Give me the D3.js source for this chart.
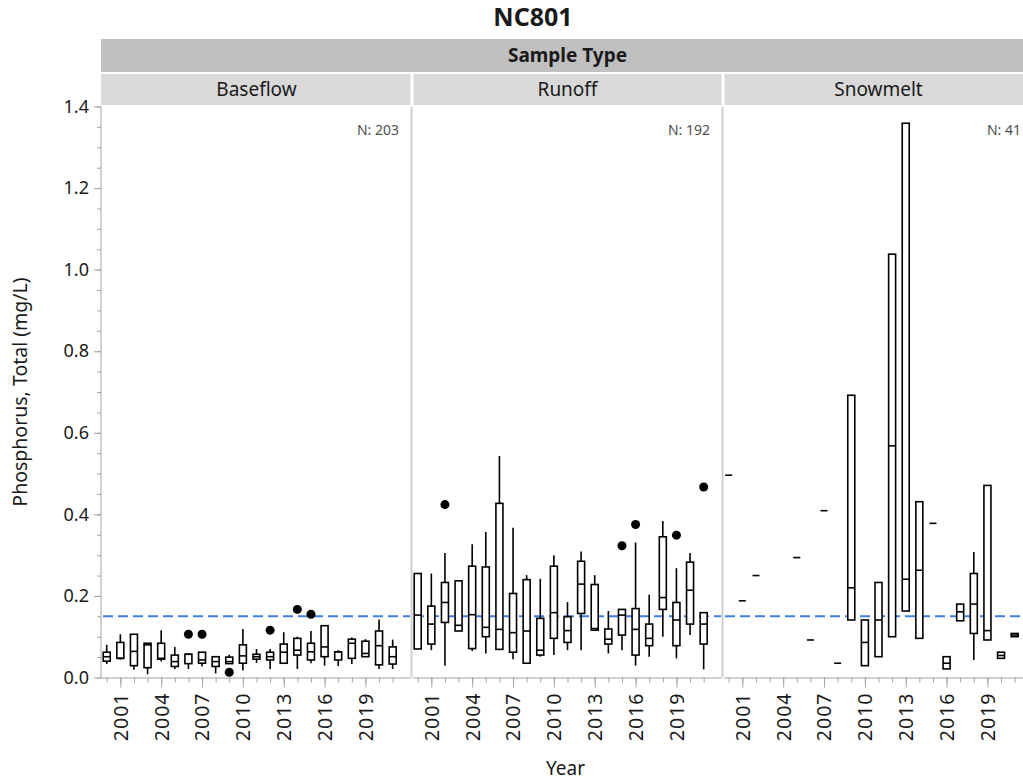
<!DOCTYPE html>
<html>
<head>
<meta charset="utf-8">
<script src="https://cdn.jsdelivr.net/npm/d3@7"></script>
<style>
  body { margin: 0; background: #fff; }
  text { font-family: "Noto Sans", "Open Sans", sans-serif; }
</style>
</head>
<body>
<svg id="chart" width="1023" height="782"></svg>
<script>
// ---- data -------------------------------------------------------------
const chartTitle = "NC801";
const groupTitle = "Sample Type";
const sampleTypes = ["Baseflow", "Runoff", "Snowmelt"];
const sampleCounts = [203, 192, 41];
const yTicks = [0, 0.2, 0.4, 0.6, 0.8, 1.0, 1.2, 1.4];
const tickYears = [2001, 2004, 2007, 2010, 2013, 2016, 2019];
const referenceLevel = 0.15;

// rows: [year, lower whisker, Q1, median, Q3, upper whisker]
const baseflowBoxes = [
  [2000, 0.033, 0.040, 0.051, 0.062, 0.080],
  [2001, 0.044, 0.047, 0.047, 0.086, 0.106],
  [2002, 0.019, 0.029, 0.064, 0.106, 0.106],
  [2003, 0.008, 0.024, 0.080, 0.084, 0.084],
  [2004, 0.039, 0.045, 0.047, 0.084, 0.116],
  [2005, 0.021, 0.027, 0.039, 0.055, 0.075],
  [2006, 0.021, 0.034, 0.057, 0.057, 0.057],
  [2007, 0.027, 0.035, 0.043, 0.062, 0.062],
  [2008, 0.010, 0.027, 0.039, 0.051, 0.051],
  [2009, 0.034, 0.034, 0.039, 0.050, 0.056],
  [2010, 0.017, 0.035, 0.053, 0.080, 0.119],
  [2011, 0.036, 0.045, 0.051, 0.057, 0.070],
  [2012, 0.021, 0.043, 0.051, 0.062, 0.070],
  [2013, 0.033, 0.035, 0.062, 0.082, 0.111],
  [2014, 0.021, 0.055, 0.067, 0.096, 0.100],
  [2015, 0.035, 0.043, 0.063, 0.084, 0.114],
  [2016, 0.029, 0.051, 0.075, 0.127, 0.127],
  [2017, 0.028, 0.043, 0.063, 0.063, 0.067],
  [2018, 0.033, 0.047, 0.084, 0.094, 0.098],
  [2019, 0.051, 0.051, 0.059, 0.089, 0.094],
  [2020, 0.021, 0.031, 0.078, 0.114, 0.142],
  [2021, 0.021, 0.033, 0.051, 0.075, 0.093]
];
const baseflowOutliers = [
  [2006, 0.106], [2007, 0.106], [2009, 0.013], [2012, 0.116],
  [2014, 0.167], [2015, 0.155]
];

const runoffBoxes = [
  [2000, 0.070, 0.070, 0.153, 0.255, 0.255],
  [2001, 0.067, 0.082, 0.131, 0.175, 0.255],
  [2002, 0.029, 0.135, 0.184, 0.233, 0.305],
  [2003, 0.114, 0.114, 0.128, 0.237, 0.237],
  [2004, 0.065, 0.071, 0.154, 0.273, 0.327],
  [2005, 0.059, 0.100, 0.123, 0.271, 0.357],
  [2006, 0.069, 0.069, 0.118, 0.427, 0.543],
  [2007, 0.045, 0.062, 0.110, 0.206, 0.367],
  [2008, 0.035, 0.035, 0.114, 0.240, 0.251],
  [2009, 0.051, 0.055, 0.067, 0.145, 0.242],
  [2010, 0.055, 0.096, 0.159, 0.273, 0.300],
  [2011, 0.067, 0.086, 0.115, 0.149, 0.185],
  [2012, 0.067, 0.157, 0.229, 0.285, 0.309],
  [2013, 0.116, 0.116, 0.120, 0.228, 0.251],
  [2014, 0.059, 0.082, 0.094, 0.119, 0.163],
  [2015, 0.067, 0.104, 0.153, 0.167, 0.167],
  [2016, 0.029, 0.055, 0.118, 0.169, 0.331],
  [2017, 0.051, 0.078, 0.096, 0.131, 0.203],
  [2018, 0.100, 0.167, 0.196, 0.345, 0.384],
  [2019, 0.047, 0.078, 0.141, 0.184, 0.268],
  [2020, 0.104, 0.131, 0.214, 0.283, 0.305],
  [2021, 0.020, 0.082, 0.131, 0.159, 0.159]
];
const runoffOutliers = [
  [2002, 0.424], [2015, 0.323], [2016, 0.375], [2019, 0.349], [2021, 0.467]
];

const snowmeltBoxes = [
  [2000, 0.496, 0.496, 0.496, 0.496, 0.496],
  [2001, 0.188, 0.188, 0.188, 0.188, 0.188],
  [2002, 0.250, 0.250, 0.250, 0.250, 0.250],
  [2005, 0.294, 0.294, 0.294, 0.294, 0.294],
  [2006, 0.092, 0.092, 0.092, 0.092, 0.092],
  [2007, 0.409, 0.409, 0.409, 0.409, 0.409],
  [2008, 0.035, 0.035, 0.035, 0.035, 0.035],
  [2009, 0.141, 0.141, 0.220, 0.692, 0.692],
  [2010, 0.029, 0.029, 0.086, 0.141, 0.141],
  [2011, 0.051, 0.051, 0.141, 0.233, 0.233],
  [2012, 0.100, 0.100, 0.568, 1.038, 1.038],
  [2013, 0.163, 0.163, 0.241, 1.359, 1.359],
  [2014, 0.096, 0.096, 0.263, 0.431, 0.431],
  [2015, 0.378, 0.378, 0.378, 0.378, 0.378],
  [2016, 0.021, 0.021, 0.035, 0.051, 0.051],
  [2017, 0.139, 0.139, 0.161, 0.180, 0.180],
  [2018, 0.043, 0.108, 0.180, 0.255, 0.308],
  [2019, 0.092, 0.092, 0.115, 0.471, 0.471],
  [2020, 0.047, 0.047, 0.054, 0.062, 0.062],
  [2021, 0.100, 0.100, 0.104, 0.108, 0.108]
];
const snowmeltOutliers = [];

const panelBoxes = [baseflowBoxes, runoffBoxes, snowmeltBoxes];
const panelOutliers = [baseflowOutliers, runoffOutliers, snowmeltOutliers];

// ---- layout -----------------------------------------------------------
const svg = d3.select("#chart");
const plotLeft = 101, panelStep = 311, panelW = 311;
const plotTop = 106.5, plotBottom = 677.5;
const boxW = 7;
const axisGrey = "#a3a3a3";
const ink = "#1a1a1a";

const x = d3.scaleLinear().domain([1999.58, 2022.42]).range([0, panelW]);
const y = d3.scaleLinear().domain([0, 1.4]).range([plotBottom, plotTop]);

svg.append("rect").attr("width", 1023).attr("height", 782).attr("fill", "#fff");

// title
svg.append("text").attr("x", 533).attr("y", 26)
  .attr("text-anchor", "middle").attr("font-size", 25).attr("font-weight", "bold")
  .attr("fill", ink).text(chartTitle);

// group header bar
const totalW = panelStep * sampleTypes.length;
svg.append("rect").attr("x", plotLeft).attr("y", 39).attr("width", totalW).attr("height", 33)
  .attr("fill", "#c0c0c0");
svg.append("text").attr("x", plotLeft + totalW / 2).attr("y", 62)
  .attr("text-anchor", "middle").attr("font-size", 19).attr("font-weight", "bold")
  .attr("fill", ink).text(groupTitle);

// y axis
const yAxisG = svg.append("g").attr("transform", `translate(${plotLeft},0)`);
yAxisG.call(d3.axisLeft(y).tickValues(d3.range(0, 1.4001, 0.05)).tickSize(4).tickFormat(""));
yAxisG.call(g => g.selectAll(".tick line").attr("stroke", axisGrey));
yAxisG.select(".domain").remove();
const yMajor = svg.append("g").attr("transform", `translate(${plotLeft},0)`)
  .call(d3.axisLeft(y).tickValues(yTicks).tickSize(7).tickPadding(5).tickFormat(d3.format(".1f")));
yMajor.select(".domain").remove();
yMajor.selectAll(".tick line").attr("stroke", axisGrey);
yMajor.selectAll(".tick text").attr("font-size", 18).attr("fill", ink)
  .attr("font-family", "'Noto Sans', sans-serif");
svg.append("line").attr("x1", plotLeft).attr("x2", plotLeft)
  .attr("y1", plotTop).attr("y2", plotBottom).attr("stroke", axisGrey);

svg.append("text")
  .attr("transform", `translate(27,${(plotTop + plotBottom) / 2}) rotate(-90)`)
  .attr("text-anchor", "middle").attr("font-size", 19.5).attr("fill", ink)
  .text("Phosphorus, Total (mg/L)");

svg.append("text").attr("x", plotLeft + totalW / 2 - 2).attr("y", 775)
  .attr("text-anchor", "middle").attr("font-size", 19).attr("fill", ink).text("Year");

// panels
sampleTypes.forEach((name, i) => {
  const x0 = plotLeft + i * panelStep;
  const g = svg.append("g").attr("transform", `translate(${x0},0)`);

  // strip header
  g.append("rect").attr("x", i === 0 ? 0 : 1.5).attr("y", 74)
    .attr("width", panelW - (i === 0 ? 1.5 : 3)).attr("height", 31).attr("fill", "#d9d9d9");
  g.append("text").attr("x", panelW / 2).attr("y", 96)
    .attr("text-anchor", "middle").attr("font-size", 19).attr("fill", ink).text(name);

  // panel separator
  if (i > 0) {
    g.append("line").attr("x1", -0.5).attr("x2", -0.5)
      .attr("y1", plotTop).attr("y2", plotBottom).attr("stroke", "#cfcfcf").attr("stroke-width", 2);
  }

  // x axis
  const xa = g.append("g").attr("transform", `translate(0,${plotBottom})`);
  xa.call(d3.axisBottom(x).tickValues(d3.range(2000, 2022)).tickSize(5).tickFormat(""));
  xa.select(".domain").attr("stroke", axisGrey).attr("d", `M${i === 0 ? 0 : 1},0.5H${panelW - 1}`);
  xa.selectAll(".tick line").attr("stroke", axisGrey);
  const xm = g.append("g").attr("transform", `translate(0,${plotBottom})`)
    .call(d3.axisBottom(x).tickValues(tickYears).tickSize(10).tickFormat(d3.format("d")));
  xm.select(".domain").remove();
  xm.selectAll(".tick line").attr("stroke", axisGrey);
  xm.selectAll(".tick text")
    .attr("font-size", 19.5).attr("fill", ink)
    .attr("font-family", "'Noto Sans', sans-serif")
    .attr("letter-spacing", "1px")
    .attr("text-anchor", "end")
    .attr("dy", "0.35em")
    .attr("transform", "translate(0,5) rotate(-90)")
    .attr("x", -10).attr("y", 0);

  // sample count
  g.append("text").attr("x", panelW - 13).attr("y", 135)
    .attr("text-anchor", "end").attr("font-size", 14).attr("fill", "#505050")
    .text(`N: ${sampleCounts[i]}`);

  // reference level
  g.append("line").attr("x1", 2).attr("x2", panelW - 2)
    .attr("y1", y(referenceLevel)).attr("y2", y(referenceLevel))
    .attr("stroke", "#3f7fe0").attr("stroke-width", 2).attr("stroke-dasharray", "10,5");

  const rows = panelBoxes[i];
  const bx = g.append("g");
  // whiskers
  bx.selectAll("line.whisker").data(rows).join("line").attr("class", "whisker")
    .attr("x1", d => x(d[0])).attr("x2", d => x(d[0]))
    .attr("y1", d => y(d[1])).attr("y2", d => y(d[5]))
    .attr("stroke", "#000").attr("stroke-width", 1.6);
  // boxes
  bx.selectAll("rect.box").data(rows.filter(d => d[4] > d[2])).join("rect").attr("class", "box")
    .attr("x", d => x(d[0]) - boxW / 2).attr("width", boxW)
    .attr("y", d => y(d[4])).attr("height", d => y(d[2]) - y(d[4]))
    .attr("fill", "#fff").attr("stroke", "#000").attr("stroke-width", 1.6);
  // medians
  bx.selectAll("line.median").data(rows).join("line").attr("class", "median")
    .attr("x1", d => x(d[0]) - boxW / 2).attr("x2", d => x(d[0]) + boxW / 2)
    .attr("y1", d => y(d[3])).attr("y2", d => y(d[3]))
    .attr("stroke", "#000").attr("stroke-width", 1.6);
  // outliers
  bx.selectAll("circle").data(panelOutliers[i]).join("circle")
    .attr("cx", d => x(d[0])).attr("cy", d => y(d[1])).attr("r", 4.5).attr("fill", "#000");
});
</script>
</body>
</html>
